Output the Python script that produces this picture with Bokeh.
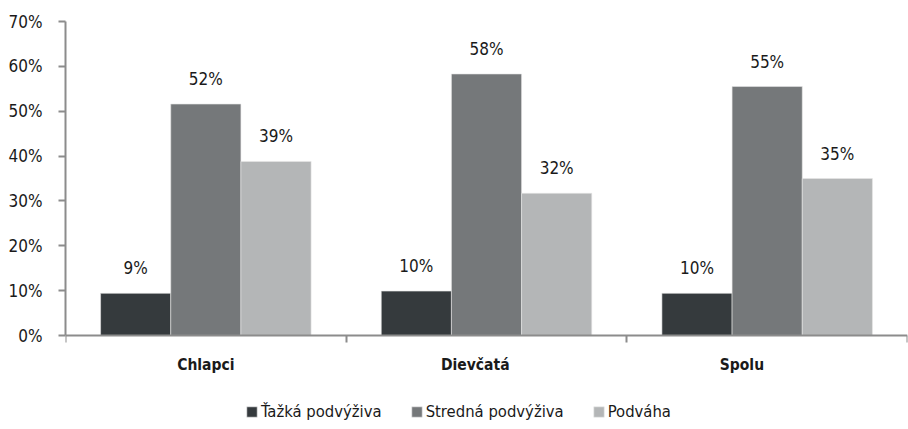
from bokeh.plotting import figure
from bokeh.models import (ColumnDataSource, Range1d, FixedTicker, Legend, LegendItem, LabelSet,
                          NumeralTickFormatter, LinearAxis)
from bokeh.core.properties import value
from bokeh.embed import file_html
from bokeh.resources import INLINE

categories = ["Chlapci", "Dievčatá", "Spolu"]
series_names = ["Ťažká podvýživa", "Stredná podvýživa", "Podváha"]
tazka = [0.094, 0.099, 0.094]
stredna = [0.516, 0.583, 0.555]
podvaha = [0.388, 0.317, 0.350]
label_tazka = ["9%", "10%", "10%"]
label_stredna = ["52%", "58%", "55%"]
label_podvaha = ["39%", "32%", "35%"]
y_ticks = [0, 0.1, 0.2, 0.3, 0.4, 0.5, 0.6, 0.7]

colors = ["#353a3d", "#75787a", "#b4b6b7"]
offsets = [-0.25, 0.0, 0.25]
cat_label_shift = [0.0, -0.04, -0.09]   # category labels sit slightly left in the original
FONT = "Liberation Sans Narrow, DejaVu Sans Condensed, sans-serif"

W, H = 908, 429
TOP, LEFT = 21, 65
AXIS_PX = 314            # pixel height of the 0..70% scale
Y_MAX = 0.7
y_start = Y_MAX - Y_MAX * (H - TOP) / AXIS_PX   # room below zero for labels and legend

p = figure(width=W, height=H, output_backend="svg", toolbar_location=None,
           x_range=Range1d(0, 3), y_range=Range1d(y_start, Y_MAX),
           x_axis_location=None,
           min_border_left=LEFT, min_border_right=1, min_border_top=TOP, min_border_bottom=0)
p.outline_line_color = None
p.grid.grid_line_color = None

centers = [i + 0.5 for i in range(len(categories))]
renderers = []
for vals, labs, col, off in zip([tazka, stredna, podvaha], [label_tazka, label_stredna, label_podvaha], colors, offsets):
    src = ColumnDataSource(dict(x=[c + off for c in centers], top=vals, lab=labs))
    r = p.vbar(x="x", top="top", bottom=0, width=0.25, source=src, fill_color=col,
               line_color="#e6e6e6", line_width=0.6)
    renderers.append(r)
    ls = LabelSet(x="x", y="top", text="lab", source=src, text_align="center", text_baseline="bottom",
                  y_offset=15, text_font=value(FONT), text_font_size=value("17px"), text_color="#1a1a1a")
    p.add_layout(ls)

# x axis drawn at zero inside the frame, ticks pointing down at group boundaries
xaxis = LinearAxis(fixed_location=0,
                   ticker=FixedTicker(ticks=[], minor_ticks=[0, 1, 2, 3]),
                   major_tick_out=0, major_tick_in=0,
                   minor_tick_out=0, minor_tick_in=7,
                   axis_line_color="#8c8c8c", axis_line_width=2,
                   minor_tick_line_color="#8c8c8c", minor_tick_line_width=2,
                   major_label_standoff=0, major_label_text_font_size="1px")
p.add_layout(xaxis, "above")

# category labels
label_pos = [c + s for c, s in zip(centers, cat_label_shift)]
cat_src = ColumnDataSource(dict(x=label_pos, y=[0] * len(categories), t=categories))
p.text(x="x", y="y", text="t", source=cat_src, text_align="center", text_baseline="top",
       y_offset=20, text_font=value(FONT), text_font_style="bold", text_font_size=value("15.5px"),
       text_color="#1a1a1a")

# y axis
p.yaxis.ticker = FixedTicker(ticks=y_ticks, minor_ticks=[])
p.yaxis.bounds = (0, Y_MAX)
p.yaxis.formatter = NumeralTickFormatter(format="0%")
p.yaxis.major_tick_out = 7
p.yaxis.major_tick_in = 0
p.yaxis.axis_line_color = "#8c8c8c"
p.yaxis.axis_line_width = 2
p.yaxis.major_tick_line_color = "#8c8c8c"
p.yaxis.major_tick_line_width = 2
p.yaxis.major_label_text_font = FONT
p.yaxis.major_label_text_font_size = "17px"
p.yaxis.major_label_text_color = "#1a1a1a"
p.yaxis.major_label_standoff = 16

legend = Legend(items=[LegendItem(label=n, renderers=[r]) for n, r in zip(series_names, renderers)],
                orientation="horizontal", location=(180, 8), border_line_color=None,
                background_fill_alpha=0,
                glyph_width=13, glyph_height=13, label_standoff=3, spacing=28,
                label_text_font=FONT, label_text_font_size="16.5px", label_text_color="#1a1a1a",
                padding=0, margin=0)
p.add_layout(legend)

open("out.html", "w").write(file_html(p, INLINE))
